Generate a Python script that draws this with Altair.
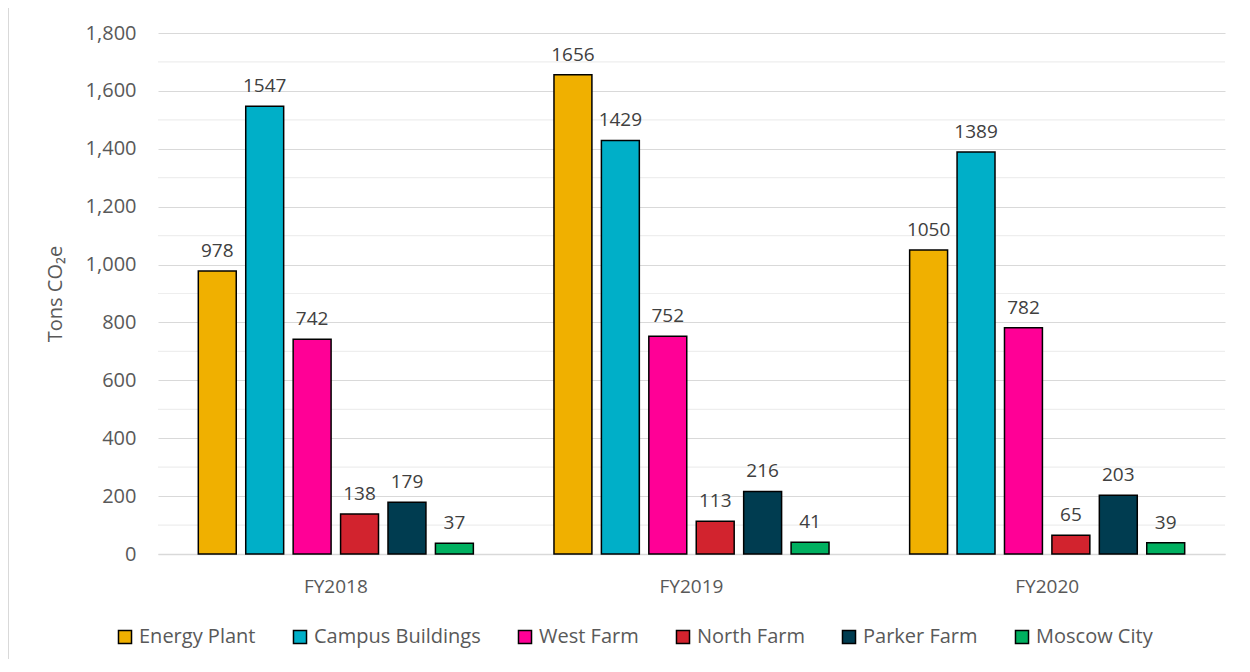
import altair as alt
import pandas as pd

years = ["FY2018", "FY2019", "FY2020"]
sources = ["Energy Plant", "Campus Buildings", "West Farm", "North Farm", "Parker Farm", "Moscow City"]
colors = ["#F0B000", "#00AFC8", "#FF0096", "#D2232E", "#003C50", "#00B060"]
values = {
    "FY2018": [978, 1547, 742, 138, 179, 37],
    "FY2019": [1656, 1429, 752, 113, 216, 41],
    "FY2020": [1050, 1389, 782, 65, 203, 39],
}
minor_grid = [100, 300, 500, 700, 900, 1100, 1300, 1500, 1700]

rows = []
for y in years:
    for s, v in zip(sources, values[y]):
        rows.append({"year": y, "source": s, "value": v})
df = pd.DataFrame(rows)

FONT = "Open Sans"
TXT = "#595959"

x = alt.X("year:N", sort=years, title=None,
          scale=alt.Scale(paddingInner=0, paddingOuter=0),
          axis=alt.Axis(labelAngle=0, ticks=False, domain=True, domainColor="#D9D9D9",
                        domainWidth=1.5, labelFontSize=19, labelColor=TXT, labelPadding=23,
                        labelFont=FONT, grid=False))
xo = alt.XOffset("source:N", sort=sources,
                 scale=alt.Scale(paddingInner=0.2, paddingOuter=0.85))
y = alt.Y("value:Q", title="Tons CO₂e",
          scale=alt.Scale(domain=[0, 1800], nice=False),
          axis=alt.Axis(values=list(range(0, 1801, 200)), format=",d", ticks=False, domain=False,
                        gridColor="#D9D9D9", gridWidth=1.2, labelFontSize=20, labelColor=TXT,
                        labelFont=FONT, labelPadding=22, titleFontSize=20, titleColor=TXT,
                        titleFont=FONT, titleFontWeight="normal", titlePadding=20))

grid_df = pd.DataFrame({"g": minor_grid})
minor = alt.Chart(grid_df).mark_rule(color="#EEEEEE", strokeWidth=1.2).encode(
    y=alt.Y("g:Q", scale=alt.Scale(domain=[0, 1800], nice=False))
)

bars = alt.Chart(df).mark_bar(stroke="black", strokeWidth=1.5).encode(
    x=x, xOffset=xo, y=y,
    color=alt.Color("source:N", sort=sources, title=None,
                    scale=alt.Scale(domain=sources, range=colors),
                    legend=alt.Legend(orient="none", legendX=-43, legendY=594, direction="horizontal",
                                      columns=6, symbolType="square", symbolSize=170,
                                      symbolStrokeColor="black", symbolStrokeWidth=1.5,
                                      labelFontSize=20, labelColor=TXT, labelFont=FONT,
                                      columnPadding=34, symbolOffset=0, labelOffset=4,
                                      labelLimit=400))
)

labels = alt.Chart(df).mark_text(baseline="bottom", dy=-10, fontSize=19, color="#404040", font=FONT).encode(
    x=x, xOffset=xo, y=alt.Y("value:Q"), text=alt.Text("value:Q", format="d")
)

one = pd.DataFrame({"a": [1]})
border = alt.Chart(one).mark_rect(
    color="#D9D9D9", fillOpacity=0, stroke="#D9D9D9", strokeWidth=2
).encode(x=alt.value(-150), x2=alt.value(1085), y=alt.value(-26), y2=alt.value(630))

chart = alt.layer(minor, bars, labels, border).properties(
    width=1067, height=521,
    autosize=alt.AutoSizeParams(type="none"),
    padding={"left": 150, "top": 25, "right": 17, "bottom": 105},
).configure_view(stroke=None)

chart.save("out.html", embed_options={"renderer": "svg", "actions": False})
